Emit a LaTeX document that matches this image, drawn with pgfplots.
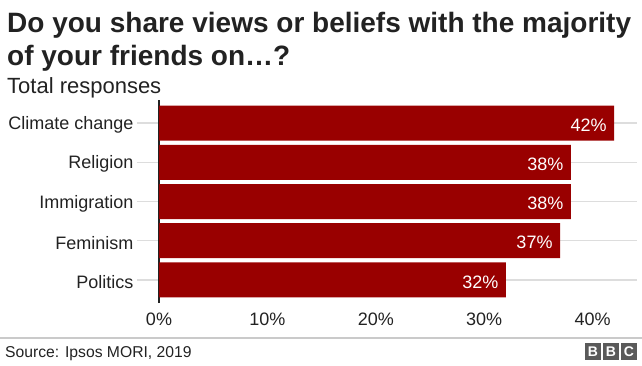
\documentclass[border=0pt]{standalone}
\usepackage{pgfplots}
\pgfplotsset{compat=1.18}
\usepackage{fontspec}
\setmainfont{Liberation Sans}
\definecolor{barred}{HTML}{990000}
\definecolor{txt}{HTML}{222222}
\definecolor{gridc}{HTML}{DDDDDD}
\definecolor{logo}{HTML}{5A5A5A}
\begin{document}
\begin{tikzpicture}[x=1pt,y=1pt]
\useasboundingbox (0,0) rectangle (642,365);
\node[anchor=base west, font=\fontsize{28}{30}\selectfont\bfseries, text=txt, inner sep=0] at (7,332) {Do you share views or beliefs with the majority};
\node[anchor=base west, font=\fontsize{28}{30}\selectfont\bfseries, text=txt, inner sep=0] at (7,299) {of your friends on…?};
\node[anchor=base west, font=\fontsize{22}{24}\selectfont, text=txt, inner sep=0] at (7,272) {Total responses};
\begin{axis}[
  at={(159pt,62pt)}, anchor=south west,
  scale only axis, width=478pt, height=203pt,
  xbar, bar width=35pt,
  xmin=0, xmax=44.1, ymin=-0.587, ymax=4.587,
  axis y line*=left, axis x line*=bottom,
  x axis line style={draw=none},
  y axis line style={draw=txt, line width=1.5pt, -},
  ytick={0,1,2,3,4},
  yticklabels={Politics,Feminism,Immigration,Religion,Climate change},
  xtick={0,10,20,30,40},
  xticklabels={0\%,10\%,20\%,30\%,40\%},
  xtick style={draw=none},
  ytick style={draw=gridc, line width=1.5pt},
  tick align=outside, major tick length=22pt,
  ymajorgrids, grid style={draw=gridc, line width=1.5pt},
  ticklabel style={font=\fontsize{18}{20}\selectfont, text=txt},
  yticklabel style={yshift=-2pt},
  xticklabel style={yshift=16pt},
  nodes near coords={\pgfplotspointmeta\%},
  nodes near coords style={anchor=east, xshift=-4pt, yshift=-2pt, text=white, font=\fontsize{18}{20}\selectfont},
  point meta=explicit symbolic,
]
\addplot[fill=barred, draw=none] coordinates {(32,0) [32] (37,1) [37] (38,2) [38] (38,3) [38] (42,4) [42]};
\end{axis}
\draw[draw=gridc!80!gray, line width=1.5pt] (0,27) -- (642,27);
\node[anchor=base west, font=\fontsize{15.7}{17}\selectfont, text=txt, inner sep=0] at (5,8) {Source: Ipsos MORI, 2019};
\foreach \i/\l in {0/B,1/B,2/C} {
  \fill[logo] (585+\i*18,5) rectangle ++(16,17);
  \node[font=\fontsize{14}{16}\selectfont\bfseries, text=white, inner sep=0] at (593+\i*18,13.5) {\l};
}
\end{tikzpicture}
\end{document}
